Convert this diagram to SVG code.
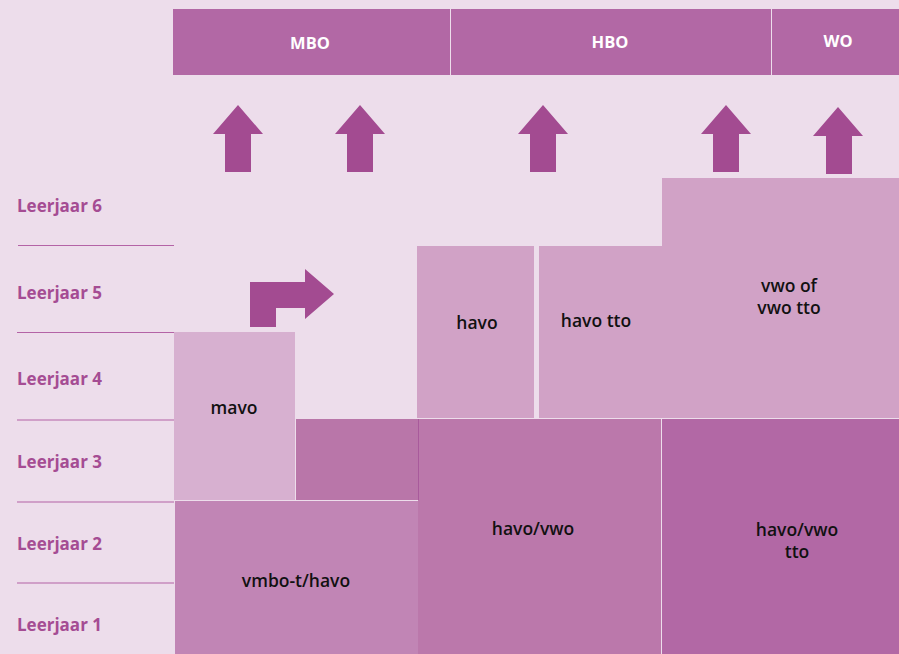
<svg xmlns="http://www.w3.org/2000/svg" width="899" height="654" viewBox="0 0 899 654">
<style>
.lbl{font-family:"Open Sans","Liberation Sans",sans-serif;font-weight:700;font-size:17px;fill:#A54C93}
.hd{font-family:"Open Sans","Liberation Sans",sans-serif;font-weight:700;font-size:16.5px;fill:#fff;text-anchor:middle}
.bx{font-family:"Open Sans","Liberation Sans",sans-serif;font-weight:600;font-size:17.5px;fill:#111;text-anchor:middle}
.sep{stroke:#B463A6;stroke-width:1.2}
.arr{fill:#A34B91}
</style>
<rect width="899" height="654" fill="#EDDDEB"/>
<g id="header">
<g id="mbo"><rect x="173" y="9" width="277" height="66" fill="#B268A5"/><text class="hd" x="310" y="49">MBO</text></g>
<g id="hbo"><rect x="451" y="9" width="320" height="66" fill="#B268A5"/><text class="hd" x="610" y="48">HBO</text></g>
<g id="wo"><rect x="772" y="9" width="127" height="66" fill="#B268A5"/><text class="hd" x="838" y="47">WO</text></g>
</g>
<g id="rows">
<text class="lbl" x="17" y="212">Leerjaar 6</text>
<text class="lbl" x="17" y="299">Leerjaar 5</text>
<text class="lbl" x="17" y="385">Leerjaar 4</text>
<text class="lbl" x="17" y="468">Leerjaar 3</text>
<text class="lbl" x="17" y="550">Leerjaar 2</text>
<text class="lbl" x="17" y="631">Leerjaar 1</text>
<line class="sep" x1="18" y1="245.5" x2="174" y2="245.5"/>
<line class="sep" x1="17" y1="332.5" x2="174" y2="332.5"/>
<line class="sep" x1="17" y1="420" x2="174" y2="420"/>
<line class="sep" x1="17" y1="502" x2="174" y2="502"/>
<line class="sep" x1="17" y1="583" x2="174" y2="583"/>
</g>
<g id="vmbo-t-havo"><rect x="175" y="501" width="243" height="153" fill="#C185B5"/><text class="bx" x="296" y="587">vmbo-t/havo</text></g>
<g id="mavo"><rect x="174" y="332" width="121" height="168" fill="#D7B0D0"/><text class="bx" x="234" y="414">mavo</text></g>
<g id="mavo-3"><rect x="296" y="419" width="122" height="81" fill="#B976A9"/></g>
<g id="havo-vwo"><rect x="418" y="419" width="243" height="235" fill="#BB78AB"/><line x1="418.5" y1="419" x2="418.5" y2="500" stroke="#A85A9B" stroke-width="1"/><text class="bx" x="533" y="535">havo/vwo</text></g>
<g id="havo-vwo-tto"><rect x="662" y="419" width="237" height="235" fill="#B268A5"/><text class="bx" x="797" y="536">havo/vwo</text><text class="bx" x="797" y="558">tto</text></g>
<g id="havo"><rect x="417" y="246" width="117" height="172" fill="#D1A2C6"/><text class="bx" x="477" y="329">havo</text></g>
<g id="havo-tto-vwo"><path d="M539,246 H662 V178 H899 V418 H539 Z" fill="#D1A2C6"/><text class="bx" x="596" y="327">havo tto</text><text class="bx" x="789" y="292">vwo of</text><text class="bx" x="789" y="314">vwo tto</text></g>
<g id="connectors">
<path class="arr" d="M238,105 L263,134 L251,134 L251,172 L225,172 L225,134 L213,134 Z"/>
<path class="arr" d="M360,105 L385,134 L373,134 L373,172 L347,172 L347,134 L335,134 Z"/>
<path class="arr" d="M543,105 L568,134 L556,134 L556,172 L530,172 L530,134 L518,134 Z"/>
<path class="arr" d="M726,105 L751,134 L739,134 L739,172 L713,172 L713,134 L701,134 Z"/>
<path class="arr" d="M838,107 L863,136 L852,136 L852,174 L826,174 L826,136 L813,136 Z"/>
<path class="arr" d="M250,327 L250,282 L305,282 L305,269 L334,294 L305,319 L305,308 L276,308 L276,327 Z"/>
</g>
</svg>
